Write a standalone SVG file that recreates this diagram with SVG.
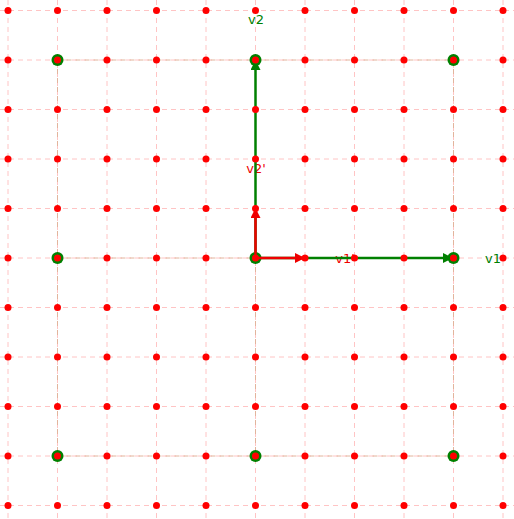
<svg xmlns="http://www.w3.org/2000/svg" width="514" height="519" viewBox="0 0 514 519">
<style>
.rg{stroke:#ffc4c4;stroke-width:1;stroke-dasharray:5,4;fill:none}
.gg{stroke:#e2b49c;stroke-width:1;stroke-dasharray:5,4;fill:none}
.dot{fill:#ff0000}
.gc{fill:#008000}
.vg{stroke:#008000;stroke-width:2.5;fill:none}
.vr{stroke:#ee0000;stroke-width:2.5;fill:none}
text{font-family:"DejaVu Sans",sans-serif;font-size:13px}
</style>
<defs>
<marker id="ag" viewBox="0 0 10 10" refX="9" refY="5" markerWidth="4" markerHeight="4" orient="auto" markerUnits="strokeWidth"><path d="M0,0L10,5L0,10z" fill="#008000"/></marker>
<marker id="ar" viewBox="0 0 10 10" refX="9" refY="5" markerWidth="4" markerHeight="4" orient="auto" markerUnits="strokeWidth"><path d="M0,0L10,5L0,10z" fill="#ee0000"/></marker>
</defs>
<g id="grid-red">
<path class="rg" d="M8,0V519M57.5,0V519M107,0V519M156.5,0V519M206,0V519M255.5,0V519M305,0V519M354.5,0V519M404,0V519M453.5,0V519M503,0V519"/>
<path class="rg" d="M0,10.5H514M0,60H514M0,109.5H514M0,159H514M0,208.5H514M0,258H514M0,307.5H514M0,357H514M0,406.5H514M0,456H514M0,505.5H514"/>
</g>
<g id="grid-green">
<path class="gg" d="M57.5,60V456M255.5,60V456M453.5,60V456M57.5,60H453.5M57.5,258H453.5M57.5,456H453.5"/>
</g>
<g id="green-points">
<circle class="gc" cx="57.5" cy="60" r="6"/><circle class="gc" cx="255.5" cy="60" r="6"/><circle class="gc" cx="453.5" cy="60" r="6"/>
<circle class="gc" cx="57.5" cy="258" r="6"/><circle class="gc" cx="255.5" cy="258" r="6"/><circle class="gc" cx="453.5" cy="258" r="6"/>
<circle class="gc" cx="57.5" cy="456" r="6"/><circle class="gc" cx="255.5" cy="456" r="6"/><circle class="gc" cx="453.5" cy="456" r="6"/>
</g>
<g id="labels">
<text x="256" y="24" fill="#008000" text-anchor="middle">v2</text>
<text x="256" y="173" fill="#ee0000" text-anchor="middle">v2'</text>
<text x="345" y="263" fill="#ee0000" text-anchor="middle">v1'</text>
<text x="493" y="263" fill="#008000" text-anchor="middle">v1</text>
</g>
<g id="connectors">
<line id="v2" class="vg" x1="255.5" y1="258" x2="255.5" y2="61" marker-end="url(#ag)"/>
<line id="v1" class="vg" x1="255.5" y1="258" x2="452" y2="258" marker-end="url(#ag)"/>
<line id="v2p" class="vr" x1="255.5" y1="258" x2="255.5" y2="209" marker-end="url(#ar)"/>
<line id="v1p" class="vr" x1="255.5" y1="258" x2="304" y2="258" marker-end="url(#ar)"/>
</g>
<g id="red-points">
<g id="row0"><circle class="dot" cx="8" cy="10.5" r="3.5"/><circle class="dot" cx="57.5" cy="10.5" r="3.5"/><circle class="dot" cx="107" cy="10.5" r="3.5"/><circle class="dot" cx="156.5" cy="10.5" r="3.5"/><circle class="dot" cx="206" cy="10.5" r="3.5"/><circle class="dot" cx="255.5" cy="10.5" r="3.5"/><circle class="dot" cx="305" cy="10.5" r="3.5"/><circle class="dot" cx="354.5" cy="10.5" r="3.5"/><circle class="dot" cx="404" cy="10.5" r="3.5"/><circle class="dot" cx="453.5" cy="10.5" r="3.5"/><circle class="dot" cx="503" cy="10.5" r="3.5"/></g>
<g id="row1"><circle class="dot" cx="8" cy="60" r="3.5"/><circle class="dot" cx="57.5" cy="60" r="3.5"/><circle class="dot" cx="107" cy="60" r="3.5"/><circle class="dot" cx="156.5" cy="60" r="3.5"/><circle class="dot" cx="206" cy="60" r="3.5"/><circle class="dot" cx="255.5" cy="60" r="3.5"/><circle class="dot" cx="305" cy="60" r="3.5"/><circle class="dot" cx="354.5" cy="60" r="3.5"/><circle class="dot" cx="404" cy="60" r="3.5"/><circle class="dot" cx="453.5" cy="60" r="3.5"/><circle class="dot" cx="503" cy="60" r="3.5"/></g>
<g id="row2"><circle class="dot" cx="8" cy="109.5" r="3.5"/><circle class="dot" cx="57.5" cy="109.5" r="3.5"/><circle class="dot" cx="107" cy="109.5" r="3.5"/><circle class="dot" cx="156.5" cy="109.5" r="3.5"/><circle class="dot" cx="206" cy="109.5" r="3.5"/><circle class="dot" cx="255.5" cy="109.5" r="3.5"/><circle class="dot" cx="305" cy="109.5" r="3.5"/><circle class="dot" cx="354.5" cy="109.5" r="3.5"/><circle class="dot" cx="404" cy="109.5" r="3.5"/><circle class="dot" cx="453.5" cy="109.5" r="3.5"/><circle class="dot" cx="503" cy="109.5" r="3.5"/></g>
<g id="row3"><circle class="dot" cx="8" cy="159" r="3.5"/><circle class="dot" cx="57.5" cy="159" r="3.5"/><circle class="dot" cx="107" cy="159" r="3.5"/><circle class="dot" cx="156.5" cy="159" r="3.5"/><circle class="dot" cx="206" cy="159" r="3.5"/><circle class="dot" cx="255.5" cy="159" r="3.5"/><circle class="dot" cx="305" cy="159" r="3.5"/><circle class="dot" cx="354.5" cy="159" r="3.5"/><circle class="dot" cx="404" cy="159" r="3.5"/><circle class="dot" cx="453.5" cy="159" r="3.5"/><circle class="dot" cx="503" cy="159" r="3.5"/></g>
<g id="row4"><circle class="dot" cx="8" cy="208.5" r="3.5"/><circle class="dot" cx="57.5" cy="208.5" r="3.5"/><circle class="dot" cx="107" cy="208.5" r="3.5"/><circle class="dot" cx="156.5" cy="208.5" r="3.5"/><circle class="dot" cx="206" cy="208.5" r="3.5"/><circle class="dot" cx="255.5" cy="208.5" r="3.5"/><circle class="dot" cx="305" cy="208.5" r="3.5"/><circle class="dot" cx="354.5" cy="208.5" r="3.5"/><circle class="dot" cx="404" cy="208.5" r="3.5"/><circle class="dot" cx="453.5" cy="208.5" r="3.5"/><circle class="dot" cx="503" cy="208.5" r="3.5"/></g>
<g id="row5"><circle class="dot" cx="8" cy="258" r="3.5"/><circle class="dot" cx="57.5" cy="258" r="3.5"/><circle class="dot" cx="107" cy="258" r="3.5"/><circle class="dot" cx="156.5" cy="258" r="3.5"/><circle class="dot" cx="206" cy="258" r="3.5"/><circle class="dot" cx="255.5" cy="258" r="3.5"/><circle class="dot" cx="305" cy="258" r="3.5"/><circle class="dot" cx="354.5" cy="258" r="3.5"/><circle class="dot" cx="404" cy="258" r="3.5"/><circle class="dot" cx="453.5" cy="258" r="3.5"/><circle class="dot" cx="503" cy="258" r="3.5"/></g>
<g id="row6"><circle class="dot" cx="8" cy="307.5" r="3.5"/><circle class="dot" cx="57.5" cy="307.5" r="3.5"/><circle class="dot" cx="107" cy="307.5" r="3.5"/><circle class="dot" cx="156.5" cy="307.5" r="3.5"/><circle class="dot" cx="206" cy="307.5" r="3.5"/><circle class="dot" cx="255.5" cy="307.5" r="3.5"/><circle class="dot" cx="305" cy="307.5" r="3.5"/><circle class="dot" cx="354.5" cy="307.5" r="3.5"/><circle class="dot" cx="404" cy="307.5" r="3.5"/><circle class="dot" cx="453.5" cy="307.5" r="3.5"/><circle class="dot" cx="503" cy="307.5" r="3.5"/></g>
<g id="row7"><circle class="dot" cx="8" cy="357" r="3.5"/><circle class="dot" cx="57.5" cy="357" r="3.5"/><circle class="dot" cx="107" cy="357" r="3.5"/><circle class="dot" cx="156.5" cy="357" r="3.5"/><circle class="dot" cx="206" cy="357" r="3.5"/><circle class="dot" cx="255.5" cy="357" r="3.5"/><circle class="dot" cx="305" cy="357" r="3.5"/><circle class="dot" cx="354.5" cy="357" r="3.5"/><circle class="dot" cx="404" cy="357" r="3.5"/><circle class="dot" cx="453.5" cy="357" r="3.5"/><circle class="dot" cx="503" cy="357" r="3.5"/></g>
<g id="row8"><circle class="dot" cx="8" cy="406.5" r="3.5"/><circle class="dot" cx="57.5" cy="406.5" r="3.5"/><circle class="dot" cx="107" cy="406.5" r="3.5"/><circle class="dot" cx="156.5" cy="406.5" r="3.5"/><circle class="dot" cx="206" cy="406.5" r="3.5"/><circle class="dot" cx="255.5" cy="406.5" r="3.5"/><circle class="dot" cx="305" cy="406.5" r="3.5"/><circle class="dot" cx="354.5" cy="406.5" r="3.5"/><circle class="dot" cx="404" cy="406.5" r="3.5"/><circle class="dot" cx="453.5" cy="406.5" r="3.5"/><circle class="dot" cx="503" cy="406.5" r="3.5"/></g>
<g id="row9"><circle class="dot" cx="8" cy="456" r="3.5"/><circle class="dot" cx="57.5" cy="456" r="3.5"/><circle class="dot" cx="107" cy="456" r="3.5"/><circle class="dot" cx="156.5" cy="456" r="3.5"/><circle class="dot" cx="206" cy="456" r="3.5"/><circle class="dot" cx="255.5" cy="456" r="3.5"/><circle class="dot" cx="305" cy="456" r="3.5"/><circle class="dot" cx="354.5" cy="456" r="3.5"/><circle class="dot" cx="404" cy="456" r="3.5"/><circle class="dot" cx="453.5" cy="456" r="3.5"/><circle class="dot" cx="503" cy="456" r="3.5"/></g>
<g id="row10"><circle class="dot" cx="8" cy="505.5" r="3.5"/><circle class="dot" cx="57.5" cy="505.5" r="3.5"/><circle class="dot" cx="107" cy="505.5" r="3.5"/><circle class="dot" cx="156.5" cy="505.5" r="3.5"/><circle class="dot" cx="206" cy="505.5" r="3.5"/><circle class="dot" cx="255.5" cy="505.5" r="3.5"/><circle class="dot" cx="305" cy="505.5" r="3.5"/><circle class="dot" cx="354.5" cy="505.5" r="3.5"/><circle class="dot" cx="404" cy="505.5" r="3.5"/><circle class="dot" cx="453.5" cy="505.5" r="3.5"/><circle class="dot" cx="503" cy="505.5" r="3.5"/></g>
</g>
</svg>
